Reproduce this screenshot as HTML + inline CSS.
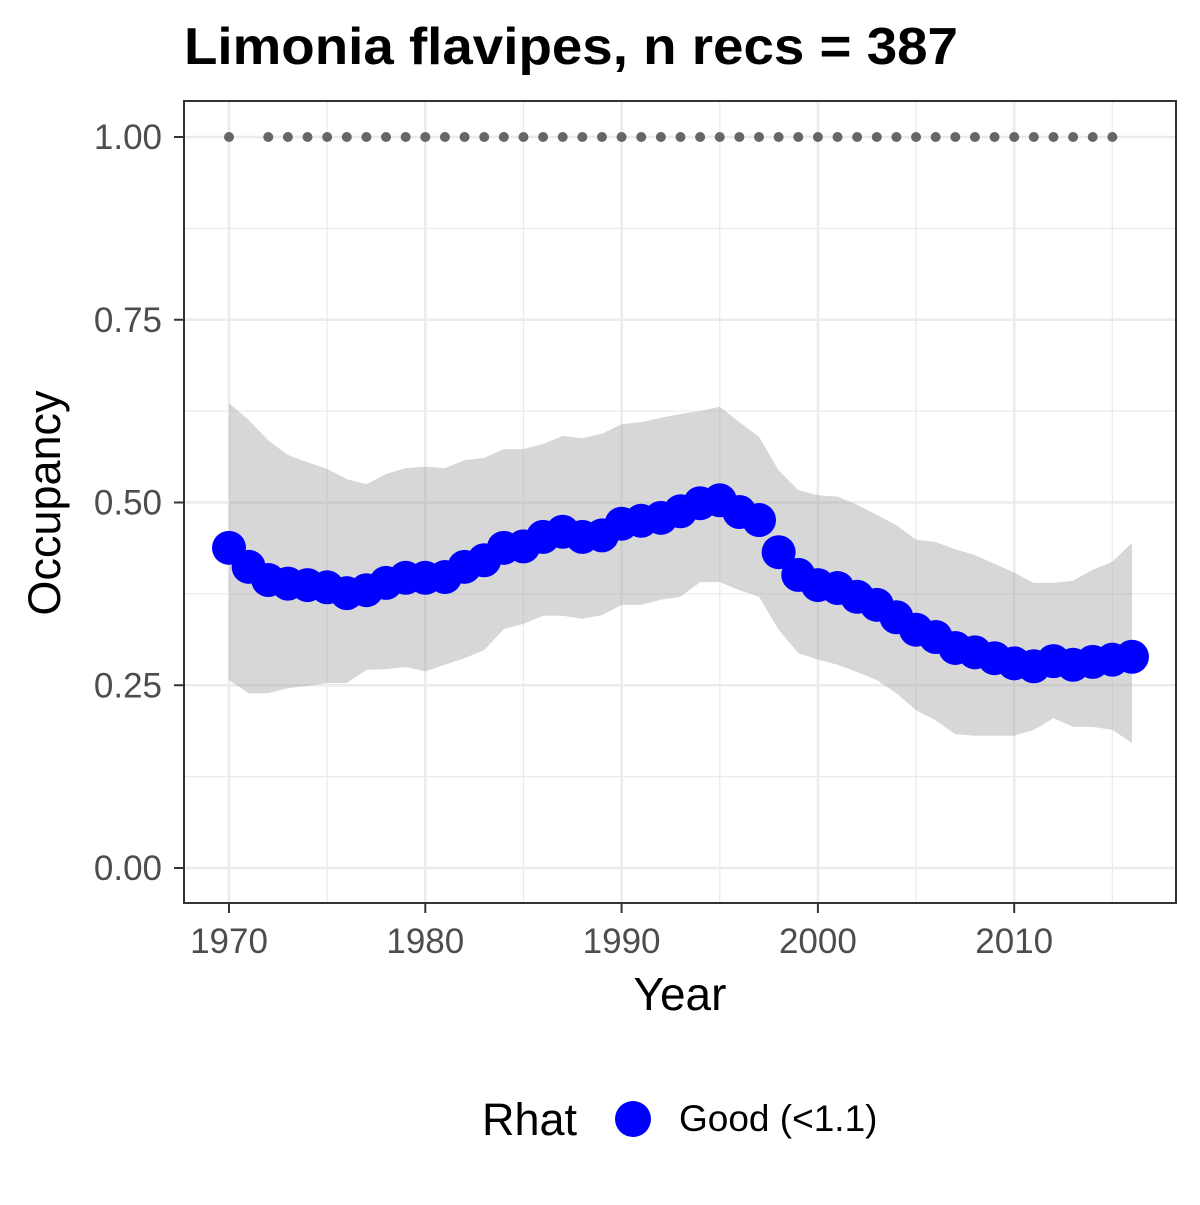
<!DOCTYPE html>
<html><head><meta charset="utf-8"><style>
body{margin:0;background:#fff;}
svg text{font-family:"Liberation Sans",Arial,sans-serif;}
</style></head><body>
<svg id="chart" width="1200" height="1200" xmlns="http://www.w3.org/2000/svg">
<rect width="1200" height="1200" fill="#fff"/>
<text x="184" y="64" font-size="52" font-weight="bold" fill="#000" textLength="774" lengthAdjust="spacingAndGlyphs">Limonia flavipes, n recs = 387</text>
<g id="grid"></g>
<g id="band"></g>
<g id="dots"></g>
<g id="points"></g>
<rect x="184" y="101" width="992" height="802" fill="none" stroke="#333" stroke-width="2"/>
<g id="axes"></g>
<text x="680" y="1010" font-size="46" text-anchor="middle" fill="#000">Year</text>
<text transform="translate(60,503) rotate(-90)" font-size="45" text-anchor="middle" fill="#000">Occupancy</text>
<g>
<text x="482" y="1135" font-size="45" fill="#000">Rhat</text>
<circle cx="633" cy="1119" r="18" fill="#0000ff"/>
<text x="679" y="1131" font-size="37" fill="#000">Good (&lt;1.1)</text>
</g>
</svg>
<script>
const years=[1970,1971,1972,1973,1974,1975,1976,1977,1978,1979,1980,1981,1982,1983,1984,1985,1986,1987,1988,1989,1990,1991,1992,1993,1994,1995,1996,1997,1998,1999,2000,2001,2002,2003,2004,2005,2006,2007,2008,2009,2010,2011,2012,2013,2014,2015,2016];
const meanOcc=[0.438,0.412,0.394,0.389,0.387,0.384,0.376,0.380,0.390,0.397,0.397,0.398,0.412,0.421,0.438,0.440,0.453,0.460,0.453,0.455,0.471,0.475,0.479,0.488,0.499,0.503,0.487,0.476,0.432,0.401,0.387,0.383,0.371,0.360,0.343,0.326,0.316,0.301,0.295,0.287,0.280,0.276,0.283,0.278,0.282,0.285,0.289];
const upperOcc=[0.636,0.613,0.585,0.565,0.555,0.546,0.532,0.525,0.539,0.547,0.549,0.547,0.558,0.561,0.573,0.573,0.580,0.591,0.588,0.594,0.607,0.610,0.616,0.621,0.625,0.631,0.610,0.590,0.544,0.517,0.510,0.508,0.497,0.483,0.469,0.449,0.446,0.436,0.428,0.416,0.404,0.390,0.390,0.393,0.408,0.419,0.445];
const lowerOcc=[0.257,0.239,0.239,0.246,0.249,0.253,0.253,0.271,0.272,0.275,0.269,0.278,0.287,0.298,0.327,0.334,0.345,0.345,0.341,0.346,0.360,0.360,0.367,0.371,0.391,0.391,0.380,0.371,0.326,0.294,0.285,0.278,0.268,0.257,0.239,0.216,0.202,0.183,0.181,0.181,0.181,0.189,0.205,0.193,0.193,0.189,0.171];
const recYears=[1970,1972,1973,1974,1975,1976,1977,1978,1979,1980,1981,1982,1983,1984,1985,1986,1987,1988,1989,1990,1991,1992,1993,1994,1995,1996,1997,1998,1999,2000,2001,2002,2003,2004,2005,2006,2007,2008,2009,2010,2011,2012,2013,2014,2015];
const xTicks=[1970,1980,1990,2000,2010];
const yTicks=[0,0.25,0.5,0.75,1];
const yTickLabels=["0.00","0.25","0.50","0.75","1.00"];

const NS="http://www.w3.org/2000/svg";
const X=v=>229+(v-1970)*19.63;
const Y=v=>868-v*731;
function mk(tag,attrs,parent){const e=document.createElementNS(NS,tag);for(const k in attrs)e.setAttribute(k,attrs[k]);document.getElementById(parent).appendChild(e);return e;}

for(let i=0;i<yTicks.length;i++){
  let l=mk('line',{x1:184,x2:1176,y1:Y(yTicks[i]),y2:Y(yTicks[i]),stroke:'#ebebeb','stroke-width':2.5},'grid');
  
  
  if(i<yTicks.length-1){
    let m=mk('line',{x1:184,x2:1176,y1:Y((yTicks[i]+yTicks[i+1])/2),y2:Y((yTicks[i]+yTicks[i+1])/2),stroke:'#ebebeb','stroke-width':1.3},'grid');
    
    
  }
}
for(let i=0;i<xTicks.length;i++){
  let l=mk('line',{x1:X(xTicks[i]),x2:X(xTicks[i]),y1:101,y2:903,stroke:'#ebebeb','stroke-width':2.5},'grid');
  
  
  let m=mk('line',{x1:X(xTicks[i]+5),x2:X(xTicks[i]+5),y1:101,y2:903,stroke:'#ebebeb','stroke-width':1.3},'grid');
  
  
}
let d='';
years.forEach((y,i)=>{d+=(i?'L':'M')+X(y)+','+Y(upperOcc[i]);});
for(let i=years.length-1;i>=0;i--)d+='L'+X(years[i])+','+Y(lowerOcc[i]);
const band=mk('path',{d:d+'Z',fill:'#a6a6a6','fill-opacity':0.45},'band');


recYears.forEach(y=>{
  const c=mk('circle',{cx:X(y),cy:Y(1),r:5,fill:'#666'},'dots');
  
  
});
years.forEach((y,i)=>{
  const c=mk('circle',{cx:X(y),cy:Y(meanOcc[i]),r:17,fill:'#0000ff'},'points');
  
  
});
yTicks.forEach((t,i)=>{
  const l=mk('line',{x1:174,x2:184,y1:Y(t),y2:Y(t),stroke:'#333','stroke-width':2},'axes');
  
  
  const tx=mk('text',{x:162,y:Y(t)+12,'font-size':35,'text-anchor':'end',fill:'#4d4d4d'},'axes');
  tx.textContent=yTickLabels[i];
  
  
});
xTicks.forEach(t=>{
  const l=mk('line',{x1:X(t),x2:X(t),y1:903,y2:913,stroke:'#333','stroke-width':2},'axes');
  
  
  const tx=mk('text',{x:X(t),y:953,'font-size':35,'text-anchor':'middle',fill:'#4d4d4d'},'axes');
  tx.textContent=t;
  
  
});
</script>
</body></html>
